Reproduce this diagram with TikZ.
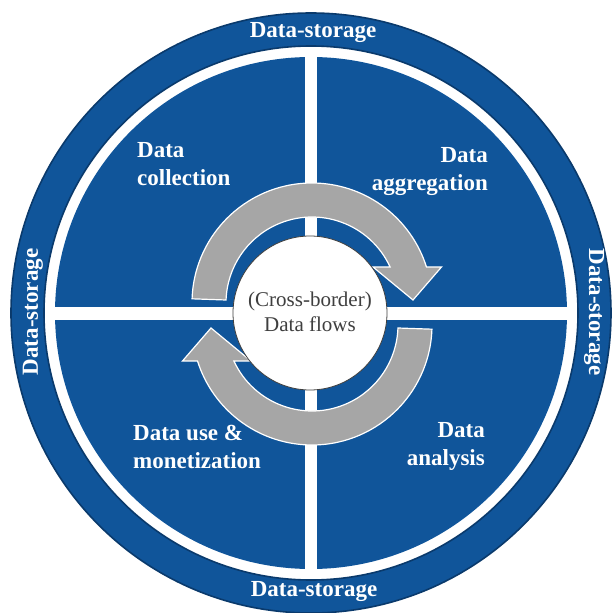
\documentclass[tikz,border=0pt]{standalone}
\usepackage{fontspec}
\setmainfont{Liberation Serif}
\definecolor{dblue}{HTML}{10559A}
\definecolor{navyline}{HTML}{0A3A6C}
\definecolor{arrowgray}{HTML}{A6A6A6}
\definecolor{centertext}{HTML}{3F3F3F}
\tikzset{
  storelabel/.style={text=white, font=\fontsize{23}{28}\selectfont\bfseries, inner sep=0pt},
  quadlabel/.style={text=white, font=\fontsize{23}{28}\selectfont\bfseries, inner sep=0pt},
  flowarrow/.style={fill=arrowgray, draw=white, line width=1.2pt, line join=miter},
}
\begin{document}
\begin{tikzpicture}[x=1pt,y=1pt]
\useasboundingbox (-311,-300) rectangle (300,313);
% outer band
\path[fill=dblue, draw=navyline, line width=1.6pt, even odd rule] (0,0) circle (300) (0,0) circle (267);
% inner disk
\fill[dblue] (0,0) circle (256);
% dividers
\fill[white] (-6.3,-258) rectangle (6.3,258);
\fill[white] (-258,-6.5) rectangle (258,6.5);
% upper arrow
\begin{scope}[shift={(1,10)}]
\path[flowarrow] (178:120) arc[start angle=178, end angle=17.46, radius=120] -- (129.5,36) -- (101,3) -- (61,36) -- (78.1,36) arc[start angle=24.75, end angle=178, radius=86] -- cycle;
\end{scope}
% lower arrow
\begin{scope}[shift={(1,-12)}, rotate=180]
\path[flowarrow] (178:120) arc[start angle=178, end angle=17.46, radius=120] -- (129.5,36) -- (101,3) -- (61,36) -- (78.1,36) arc[start angle=24.75, end angle=178, radius=86] -- cycle;
\end{scope}
% center circle
\node[circle, fill=white, draw=centertext, line width=0.8pt, minimum size=154pt, inner sep=0pt] (hub) at (-1,0) {};
\node[text=centertext, font=\fontsize{21}{24.5}\selectfont, align=center, inner sep=0pt] (flows) at (-1,1) {(Cross-border)\\Data flows};
% storage labels
\node[storelabel] (stTop) at (2,280) {Data-storage};
\node[storelabel] (stBot) at (3,-279) {Data-storage};
\node[storelabel, rotate=90] (stLeft) at (-278,1) {Data-storage};
\node[storelabel, rotate=-90] (stRight) at (283,1) {Data-storage};
% quadrant labels
\node[quadlabel, align=left, anchor=west] (collect) at (-174,148.5) {Data\\collection};
\node[quadlabel, align=right, anchor=east] (aggr) at (177,141.5) {Data\\aggregation};
\node[quadlabel, align=left, anchor=west] (use) at (-178,-133.5) {Data use \&\\monetization};
\node[quadlabel, align=right, anchor=east] (anal) at (174,-133.5) {Data\\analysis};
\end{tikzpicture}
\end{document}
